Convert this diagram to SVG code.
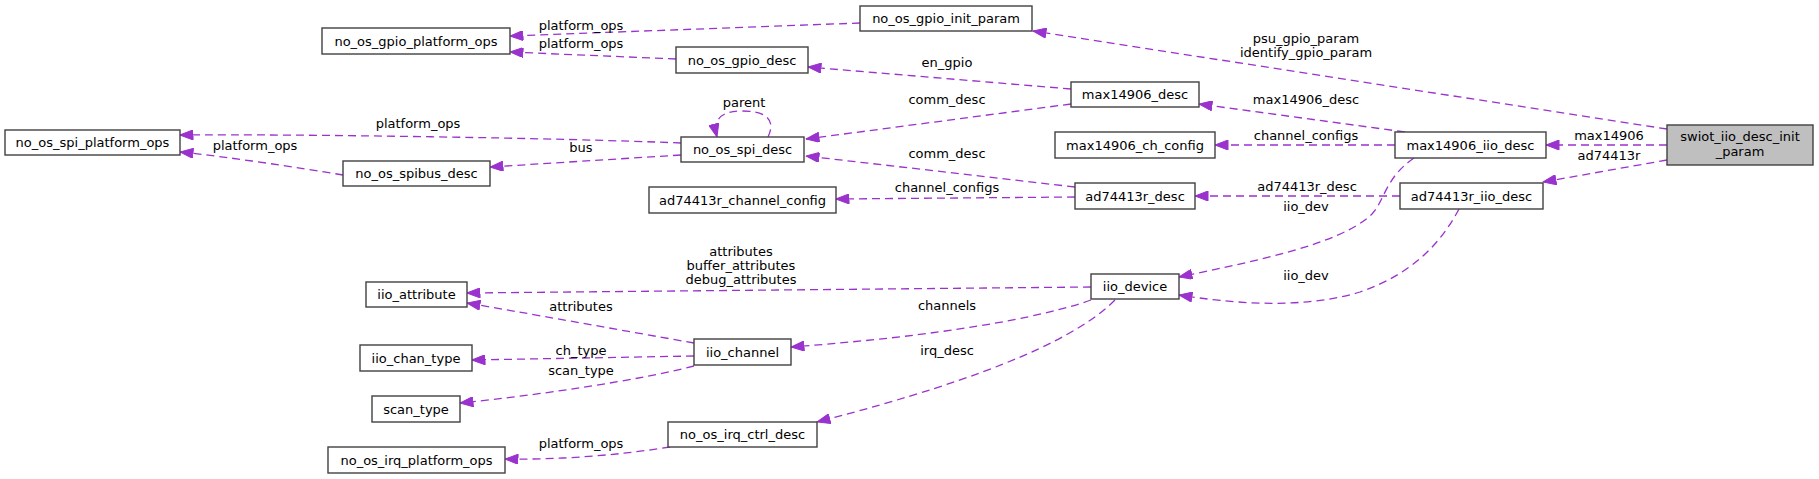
<svg xmlns="http://www.w3.org/2000/svg" width="1819" height="479" viewBox="0 0 1819 479">
<defs>
<style>
.n rect{fill:#ffffff;stroke:#404040;stroke-width:1.4}
.n.root rect{fill:#bfbfbf}
.n text,.lbl{font-family:"DejaVu Sans","Liberation Sans",sans-serif;font-size:13px;fill:#000;text-anchor:middle}
.e{fill:none;stroke:#9a32cd;stroke-width:1.3;stroke-dasharray:8,5;marker-end:url(#ah)}
</style>
<marker id="ah" markerUnits="userSpaceOnUse" markerWidth="14" markerHeight="10" viewBox="0 0 13 10" refX="13" refY="5" orient="auto">
<path d="M0,0 L13,5 L0,10 z" fill="#9a32cd" stroke="#9a32cd" stroke-width="1"/>
</marker>
</defs>
<rect width="1819" height="479" fill="#ffffff"/>
<g id="connectors">
<path class="e" d="M1667,129 L1033,31"/>
<path class="e" d="M860,23 L510,36"/>
<path class="e" d="M676,59 L510,52"/>
<path class="e" d="M1071,89 L808,67"/>
<path class="e" d="M1071,104 L806,139"/>
<path class="e" d="M1075,187 L806,156"/>
<path class="e" d="M768,137 C778,116 760,111 742,111 C724,111 712,117 717,137"/>
<path class="e" d="M681,143 C560,138 300,134 180,135"/>
<path class="e" d="M681,155 L490,167"/>
<path class="e" d="M343,175 C300,168 230,157 180,152"/>
<path class="e" d="M1667,145 L1546,145"/>
<path class="e" d="M1667,160 L1543,182"/>
<path class="e" d="M1405,132 L1199,104"/>
<path class="e" d="M1395,145 L1215,145"/>
<path class="e" d="M1414,158 C1385,178 1385,200 1372,214 C1340,245 1250,262 1179,277"/>
<path class="e" d="M1459,209 C1440,245 1410,275 1360,292 C1300,310 1230,303 1179,295"/>
<path class="e" d="M1400,196 L1195,196"/>
<path class="e" d="M1075,197 L836,199"/>
<path class="e" d="M1091,287 L467,293"/>
<path class="e" d="M694,343 C620,330 520,312 467,303"/>
<path class="e" d="M1091,300 C1040,318 940,336 791,347"/>
<path class="e" d="M1115,300 C1080,335 1000,375 817,422"/>
<path class="e" d="M694,356 L472,360"/>
<path class="e" d="M694,366 C640,380 540,395 460,403"/>
<path class="e" d="M670,447 C620,455 560,460 505,459"/>
<text class="lbl" x="1306" y="43">psu_gpio_param</text>
<text class="lbl" x="1306" y="57">identify_gpio_param</text>
<text class="lbl" x="581" y="30">platform_ops</text>
<text class="lbl" x="581" y="48">platform_ops</text>
<text class="lbl" x="947" y="67">en_gpio</text>
<text class="lbl" x="947" y="104">comm_desc</text>
<text class="lbl" x="947" y="158">comm_desc</text>
<text class="lbl" x="744" y="107">parent</text>
<text class="lbl" x="418" y="128">platform_ops</text>
<text class="lbl" x="581" y="152">bus</text>
<text class="lbl" x="255" y="150">platform_ops</text>
<text class="lbl" x="1609" y="140">max14906</text>
<text class="lbl" x="1609" y="160">ad74413r</text>
<text class="lbl" x="1306" y="104">max14906_desc</text>
<text class="lbl" x="1306" y="140">channel_configs</text>
<text class="lbl" x="1307" y="191">ad74413r_desc</text>
<text class="lbl" x="1306" y="211">iio_dev</text>
<text class="lbl" x="1306" y="280">iio_dev</text>
<text class="lbl" x="947" y="192">channel_configs</text>
<text class="lbl" x="741" y="256">attributes</text>
<text class="lbl" x="741" y="270">buffer_attributes</text>
<text class="lbl" x="741" y="284">debug_attributes</text>
<text class="lbl" x="581" y="311">attributes</text>
<text class="lbl" x="947" y="310">channels</text>
<text class="lbl" x="947" y="355">irq_desc</text>
<text class="lbl" x="581" y="355">ch_type</text>
<text class="lbl" x="581" y="375">scan_type</text>
<text class="lbl" x="581" y="448">platform_ops</text>
</g>
<g id="swiot_iio_desc_init_param" class="n root"><rect x="1667" y="125" width="146" height="40"/><text x="1740" y="141">swiot_iio_desc_init</text><text x="1740" y="156">_param</text></g>
<g id="no_os_gpio_init_param" class="n"><rect x="860" y="6" width="172" height="25"/><text x="946" y="23">no_os_gpio_init_param</text></g>
<g id="no_os_gpio_platform_ops" class="n"><rect x="322" y="28" width="188" height="26"/><text x="416" y="45.5">no_os_gpio_platform_ops</text></g>
<g id="no_os_gpio_desc" class="n"><rect x="676" y="47" width="132" height="26"/><text x="742" y="64.5">no_os_gpio_desc</text></g>
<g id="max14906_desc" class="n"><rect x="1071" y="82" width="128" height="25"/><text x="1135" y="99">max14906_desc</text></g>
<g id="no_os_spi_platform_ops" class="n"><rect x="5" y="130" width="175" height="25"/><text x="92.5" y="147">no_os_spi_platform_ops</text></g>
<g id="no_os_spi_desc" class="n"><rect x="681" y="137" width="123" height="25"/><text x="742.5" y="154">no_os_spi_desc</text></g>
<g id="max14906_ch_config" class="n"><rect x="1055" y="132" width="160" height="26"/><text x="1135" y="149.5">max14906_ch_config</text></g>
<g id="max14906_iio_desc" class="n"><rect x="1395" y="132" width="151" height="26"/><text x="1470.5" y="149.5">max14906_iio_desc</text></g>
<g id="no_os_spibus_desc" class="n"><rect x="343" y="161" width="147" height="25"/><text x="416.5" y="178">no_os_spibus_desc</text></g>
<g id="ad74413r_channel_config" class="n"><rect x="649" y="187" width="187" height="26"/><text x="742.5" y="204.5">ad74413r_channel_config</text></g>
<g id="ad74413r_desc" class="n"><rect x="1075" y="183" width="120" height="26"/><text x="1135" y="200.5">ad74413r_desc</text></g>
<g id="ad74413r_iio_desc" class="n"><rect x="1400" y="183" width="143" height="26"/><text x="1471.5" y="200.5">ad74413r_iio_desc</text></g>
<g id="iio_attribute" class="n"><rect x="366" y="282" width="101" height="25"/><text x="416.5" y="299">iio_attribute</text></g>
<g id="iio_device" class="n"><rect x="1091" y="274" width="88" height="25"/><text x="1135" y="291">iio_device</text></g>
<g id="iio_chan_type" class="n"><rect x="360" y="345" width="112" height="26"/><text x="416" y="362.5">iio_chan_type</text></g>
<g id="iio_channel" class="n"><rect x="694" y="339" width="97" height="26"/><text x="742.5" y="356.5">iio_channel</text></g>
<g id="scan_type" class="n"><rect x="372" y="396" width="88" height="26"/><text x="416" y="413.5">scan_type</text></g>
<g id="no_os_irq_ctrl_desc" class="n"><rect x="668" y="422" width="149" height="25"/><text x="742.5" y="439">no_os_irq_ctrl_desc</text></g>
<g id="no_os_irq_platform_ops" class="n"><rect x="328" y="447" width="177" height="26"/><text x="416.5" y="464.5">no_os_irq_platform_ops</text></g>
</svg>
